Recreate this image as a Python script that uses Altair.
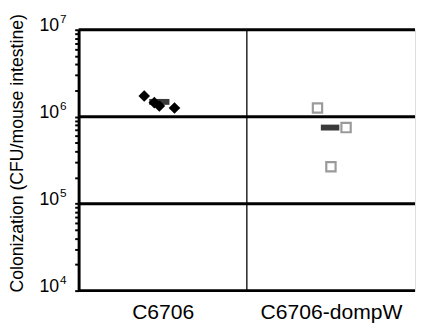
import altair as alt
import pandas as pd

categories = ["C6706", "C6706-dompW"]

# individual mice
wt_pos = [0.39, 0.45, 0.48, 0.57]
wt_cfu = [1.73e6, 1.45e6, 1.33e6, 1.26e6]
mut_pos = [1.42, 1.59, 1.50]
mut_cfu = [1.26e6, 7.5e5, 2.66e5]

# means (bar)
mean_x1 = [0.42, 1.44]
mean_x2 = [0.54, 1.55]
mean_cfu = [1.48e6, 7.5e5]

decades = [1e4, 1e5, 1e6, 1e7]
exponents = ["4", "5", "6", "7"]
tick_vals = [m * 10 ** k for k in range(4, 7) for m in range(1, 10)] + [1e7]
y_title = "Colonization (CFU/mouse intestine)"

wt = pd.DataFrame({"x": wt_pos, "y": wt_cfu})
mut = pd.DataFrame({"x": mut_pos, "y": mut_cfu})
means = pd.DataFrame({"x": mean_x1, "x2": mean_x2, "y": mean_cfu})
grid = pd.DataFrame({"y": decades, "exp": exponents, "base": ["10"] * 4})
sep = pd.DataFrame({"x": [1.0]})
title_df = pd.DataFrame({"t": [y_title]})

yscale = alt.Scale(type="log", domain=[1e4, 1e7], nice=False)
xscale = alt.Scale(domain=[0, 2], nice=False, zero=False)

y_axis = alt.Axis(values=tick_vals, labels=False, grid=False, title=None,
                  tickSize=4, tickWidth=2, tickColor="black",
                  domainColor="black", domainWidth=3)

x_axis = alt.Axis(values=[0.5, 1.5],
                  labelExpr="datum.value == 0.5 ? '" + categories[0] + "' : '" + categories[1] + "'",
                  ticks=False, domain=False, grid=False, title=None,
                  labelFont="Liberation Sans", labelFontSize=21.5, labelColor="black",
                  labelPadding=11)

gridlines = alt.Chart(grid).mark_rule(color="black", strokeWidth=3).encode(
    y=alt.Y("y:Q", scale=yscale, axis=y_axis),
    x=alt.value(0), x2=alt.value(343))

base_lbl = alt.Chart(grid).mark_text(align="right", baseline="middle", fontSize=18,
                                     font="Liberation Sans", color="black", dy=-4).encode(
    y=alt.Y("y:Q", scale=yscale), x=alt.value(-20), text="base:N")

exp_lbl = alt.Chart(grid).mark_text(align="left", baseline="middle", fontSize=12,
                                    font="Liberation Sans", color="black", dy=-11).encode(
    y=alt.Y("y:Q", scale=yscale), x=alt.value(-19), text="exp:N")

title_txt = alt.Chart(title_df).mark_text(angle=270, align="center", baseline="middle",
                                          fontSize=18, font="Liberation Sans",
                                          color="black").encode(
    x=alt.value(-62), y=alt.value(126), text="t:N")

separator = alt.Chart(sep).mark_rule(color="#222", strokeWidth=1.5).encode(
    x=alt.X("x:Q", scale=xscale, axis=x_axis))

bars = alt.Chart(means).mark_rule(color="#3a3a3a", strokeWidth=6).encode(
    x=alt.X("x:Q", scale=xscale), x2="x2:Q", y=alt.Y("y:Q", scale=yscale))

diamonds = alt.Chart(wt).mark_point(shape="diamond", filled=True, color="black",
                                    size=140, opacity=1).encode(
    x=alt.X("x:Q", scale=xscale), y=alt.Y("y:Q", scale=yscale))

squares = alt.Chart(mut).mark_point(shape="square", filled=False, color="#9a9a9a",
                                    size=90, strokeWidth=2.2, opacity=1).encode(
    x=alt.X("x:Q", scale=xscale), y=alt.Y("y:Q", scale=yscale))

chart = alt.layer(separator, gridlines, base_lbl, exp_lbl, title_txt,
                  bars, diamonds, squares).properties(
    width=343, height=266,
    autosize=alt.AutoSizeParams(type="none"),
    padding={"left": 72, "top": 19, "right": 2, "bottom": 38},
).configure_view(stroke=None).configure(background="white")

chart.save("out.html", embed_options={"renderer": "svg", "actions": False})
